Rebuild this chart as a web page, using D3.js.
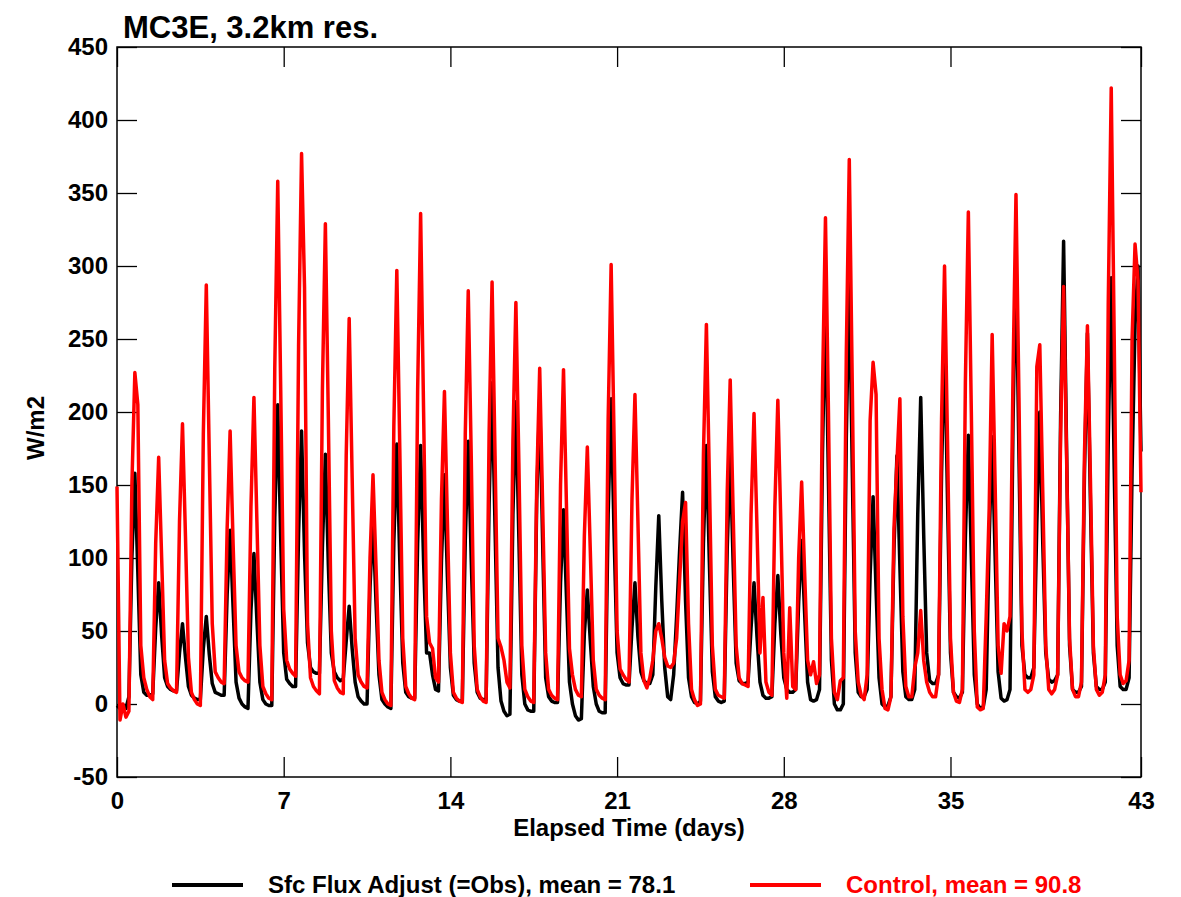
<!DOCTYPE html>
<html>
<head>
<meta charset="utf-8">
<script src="https://cdn.jsdelivr.net/npm/d3@7/dist/d3.min.js"></script>
<style>
  body { margin: 0; background: #fff; }
  text { font-family: "Liberation Sans", Arial, Helvetica, sans-serif; font-weight: bold; }
</style>
</head>
<body>
<svg id="chart"></svg>
<script>
// sample hours within each day (UTC), 3-hourly
const sampleHours = [0, 3, 6, 9, 12, 15, 18, 21]

// Sfc Flux Adjust (=Obs) - one row per day, values in W/m2
const obsFlux = [
  [-1, -3, -2, -3, 5, 100, 158, 90],
  [20, 8, 6, 6, 7, 52, 83, 47],
  [18, 12, 10, 9, 9, 35, 55, 32],
  [12, 6, 4, 3, 3, 38, 60, 34],
  [14, 8, 7, 6, 6, 75, 119, 66],
  [15, 4, 0, -2, -3, 64, 103, 57],
  [15, 3, 0, -1, -1, 128, 205, 113],
  [35, 17, 14, 12, 12, 117, 187, 103],
  [42, 25, 22, 21, 21, 107, 171, 95],
  [35, 22, 18, 16, 17, 43, 67, 38],
  [15, 5, 2, 0, 0, 80, 127, 70],
  [20, 3, 0, -2, -3, 111, 178, 98],
  [28, 8, 5, 4, 4, 110, 177, 97],
  [35, 35, 20, 10, 9, 98, 157, 87],
  [25, 6, 3, 2, 2, 112, 180, 99],
  [28, 8, 4, 3, 3, 137, 220, 121],
  [25, 2, -5, -8, -7, 130, 207, 114],
  [20, 0, -4, -5, -5, 140, 209, 110],
  [18, 5, 2, 1, 1, 83, 133, 73],
  [15, 0, -8, -11, -10, 48, 78, 43],
  [12, 0, -5, -6, -6, 130, 209, 115],
  [35, 18, 14, 13, 13, 52, 83, 46],
  [22, 16, 14, 14, 20, 80, 129, 71],
  [25, 5, 3, 20, 60, 105, 145, 70],
  [18, 5, 1, 0, 2, 110, 177, 97],
  [22, 5, 2, 1, 2, 107, 172, 95],
  [28, 16, 14, 14, 15, 52, 83, 46],
  [15, 6, 4, 4, 5, 55, 88, 48],
  [18, 10, 8, 8, 10, 70, 112, 62],
  [15, 3, 2, 3, 10, 172, 278, 153],
  [30, 0, -4, -4, 0, 182, 294, 162],
  [35, 8, 5, 5, 10, 88, 142, 78],
  [18, 0, -2, -1, 5, 105, 170, 94],
  [22, 5, 3, 3, 10, 130, 210, 116],
  [35, 16, 14, 14, 20, 158, 255, 140],
  [35, 8, 5, 4, 8, 114, 184, 101],
  [20, 0, -3, -2, 10, 113, 183, 101],
  [22, 4, 2, 3, 10, 192, 309, 170],
  [40, 20, 18, 18, 25, 124, 200, 110],
  [35, 17, 15, 16, 20, 197, 317, 175],
  [40, 10, 8, 8, 12, 157, 254, 140],
  [35, 12, 10, 10, 15, 181, 292, 161],
  [40, 12, 10, 10, 18, 160, 260, 300]
]
const obsLast = 173

// Control run - one row per day
const ctlFlux = [
  [149, -11, 0, -9, -5, 150, 227, 205],
  [40, 18, 10, 5, 3, 110, 169, 100],
  [30, 14, 11, 9, 8, 125, 192, 115],
  [32, 8, 3, 0, -1, 185, 287, 170],
  [55, 22, 18, 15, 14, 120, 187, 110],
  [40, 22, 18, 16, 15, 135, 210, 125],
  [40, 12, 7, 4, 3, 230, 358, 215],
  [65, 30, 24, 21, 19, 245, 377, 285],
  [55, 18, 12, 9, 7, 215, 329, 195],
  [50, 16, 11, 8, 7, 170, 264, 155],
  [45, 20, 15, 12, 11, 100, 157, 95],
  [30, 8, 3, 0, -1, 190, 297, 175],
  [45, 12, 7, 4, 3, 215, 336, 200],
  [60, 42, 38, 18, 15, 140, 214, 125],
  [35, 8, 4, 2, 1, 185, 283, 170],
  [40, 10, 5, 2, 1, 185, 289, 170],
  [45, 39, 30, 15, 11, 180, 275, 165],
  [40, 10, 5, 2, 1, 150, 230, 135],
  [35, 10, 6, 4, 3, 150, 229, 135],
  [38, 20, 10, 6, 5, 115, 176, 105],
  [30, 10, 6, 4, 3, 195, 301, 180],
  [50, 24, 20, 17, 15, 140, 212, 125],
  [35, 16, 11, 18, 30, 50, 55, 45],
  [32, 26, 25, 28, 45, 85, 125, 138],
  [55, 10, 3, -1, 0, 170, 260, 155],
  [40, 10, 6, 5, 4, 145, 222, 130],
  [40, 18, 14, 13, 12, 130, 199, 120],
  [35, 73, 15, 8, 6, 135, 208, 125],
  [35, 4, 66, 12, 10, 100, 152, 90],
  [30, 20, 29, 14, 20, 215, 333, 200],
  [45, 8, 3, 16, 18, 240, 373, 220],
  [50, 15, 6, 3, 20, 194, 234, 212],
  [45, 10, -3, -4, 5, 120, 165, 209],
  [60, 12, 5, 5, 25, 35, 64, 30],
  [15, 8, 5, 5, 20, 195, 300, 180],
  [45, 8, 2, 1, 10, 220, 337, 200],
  [50, -2, -4, -3, 60, 134, 253, 150],
  [40, 21, 55, 50, 60, 225, 349, 210],
  [50, 10, 8, 10, 20, 231, 246, 145],
  [40, 10, 7, 10, 20, 185, 286, 170],
  [45, 10, 5, 5, 15, 170, 259, 155],
  [40, 10, 6, 8, 20, 275, 422, 250],
  [60, 20, 14, 16, 30, 250, 315, 290]
]
const ctlLast = 145

const xTicks = [0, 7, 14, 21, 28, 35, 43]
const yTicks = [-50, 0, 50, 100, 150, 200, 250, 300, 350, 400, 450]

const seriesNames = ['Sfc Flux Adjust (=Obs), mean = 78.1', 'Control, mean = 90.8']
const seriesColors = ['#000000', '#ff0000']

var width = 1181, height = 897

// flatten the daily rows into (day, value) points
function toPoints(rows, last) {
  var pts = []
  rows.forEach(function(row, day) {
    row.forEach(function(v, i) {
      pts.push({t: day + sampleHours[i] / 24, v: v})
    })
  })
  pts.push({t: rows.length, v: last})
  return pts
}
const obsPts = toPoints(obsFlux, obsLast)
const ctlPts = toPoints(ctlFlux, ctlLast)

const svg = d3.select('#chart')
  .attr('width', width)
  .attr('height', height)

var x = d3.scaleLinear()
  .domain([0, 43])
  .range([117, 1141])

var y = d3.scaleLinear()
  .domain([-50, 450])
  .range([777, 47])

var tickLen = 20
var fmt = function(d) { return String(d) }  // plain hyphen for negatives

// bottom axis, ticks inward
var gx = svg.append('g')
  .attr('transform', 'translate(0,' + y(-50) + ')')
  .call(d3.axisBottom(x).tickValues(xTicks).tickFormat(fmt).tickSizeInner(-tickLen).tickSizeOuter(0).tickPadding(15))
// top axis, ticks only
var gxt = svg.append('g')
  .attr('transform', 'translate(0,' + y(450) + ')')
  .call(d3.axisTop(x).tickValues(xTicks).tickSizeInner(-tickLen).tickSizeOuter(0).tickFormat(''))
// left axis
var gy = svg.append('g')
  .attr('transform', 'translate(' + x(0) + ',0)')
  .call(d3.axisLeft(y).tickValues(yTicks).tickFormat(fmt).tickSizeInner(-tickLen).tickSizeOuter(0).tickPadding(9))
// right axis
var gyr = svg.append('g')
  .attr('transform', 'translate(' + x(43) + ',0)')
  .call(d3.axisRight(y).tickValues(yTicks).tickSizeInner(-tickLen).tickSizeOuter(0).tickFormat(''))

;[gx, gxt, gy, gyr].forEach(function(g) {
  g.select('.domain').remove()
  g.selectAll('line').attr('stroke', '#000').attr('stroke-width', 1.3)
  g.selectAll('text')
    .attr('fill', '#000')
    .style('font-size', '24px')
    .style('font-family', '"Liberation Sans", Arial, sans-serif')
    .style('font-weight', 'bold')
})

// frame
svg.append('rect')
  .attr('x', x(0))
  .attr('y', y(450))
  .attr('width', x(43) - x(0))
  .attr('height', y(-50) - y(450))
  .attr('fill', 'none')
  .attr('stroke', '#000')
  .attr('stroke-width', 1.5)

var line = d3.line()
  .x(function(d) { return x(d.t) })
  .y(function(d) { return y(d.v) })

svg.append('path')
  .datum(obsPts)
  .attr('fill', 'none')
  .attr('stroke', seriesColors[0])
  .attr('stroke-width', 3.5)
  .attr('stroke-linejoin', 'round')
  .attr('d', line)

svg.append('path')
  .datum(ctlPts)
  .attr('fill', 'none')
  .attr('stroke', seriesColors[1])
  .attr('stroke-width', 3.5)
  .attr('stroke-linejoin', 'round')
  .attr('d', line)

// title
svg.append('text')
  .attr('x', 123)
  .attr('y', 38)
  .style('font-size', '31px')
  .text('MC3E, 3.2km res.')

// axis titles
svg.append('text')
  .attr('x', (x(0) + x(43)) / 2)
  .attr('y', 836)
  .attr('text-anchor', 'middle')
  .style('font-size', '24px')
  .text('Elapsed Time (days)')

svg.append('text')
  .attr('transform', 'translate(44,428) rotate(-90)')
  .attr('text-anchor', 'middle')
  .style('font-size', '24px')
  .text('W/m2')

// legend
var legendX = [172, 750]
seriesNames.forEach(function(name, i) {
  svg.append('line')
    .attr('x1', legendX[i]).attr('x2', legendX[i] + 71)
    .attr('y1', 885).attr('y2', 885)
    .attr('stroke', seriesColors[i])
    .attr('stroke-width', 4)
  svg.append('text')
    .attr('x', legendX[i] + 96)
    .attr('y', 893)
    .attr('fill', seriesColors[i])
    .style('font-size', '24px')
    .text(name)
})
</script>
</body>
</html>
